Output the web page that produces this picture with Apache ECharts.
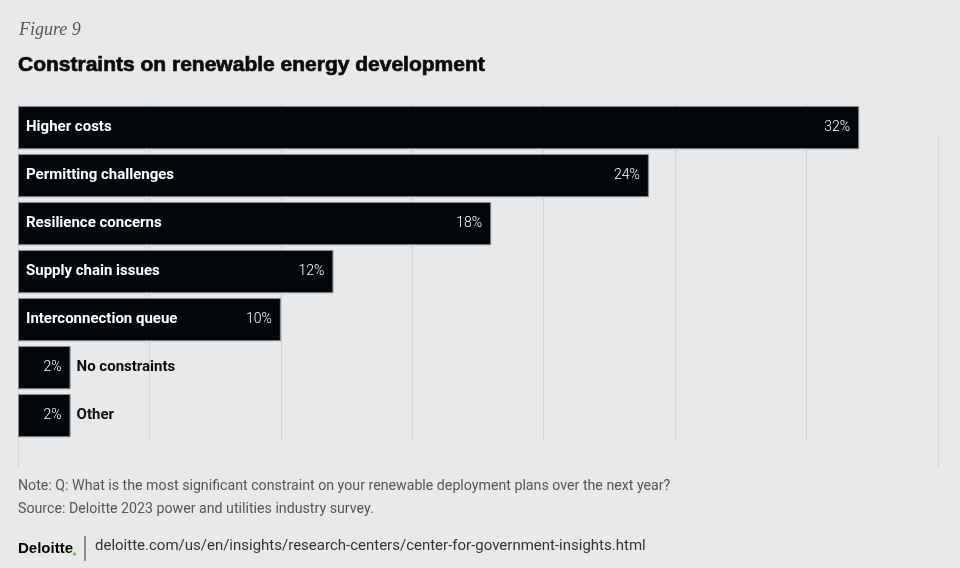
<!DOCTYPE html>
<html>
<head>
<meta charset="utf-8">
<script src="https://cdn.jsdelivr.net/npm/echarts@6/dist/echarts.min.js"></script>
<style>
html,body{margin:0;padding:0;background:#e8e9eb;}
#c{width:960px;height:568px;}
</style>
</head>
<body>
<div id="c"></div>
<script>
const categories = ["Higher costs","Permitting challenges","Resilience concerns","Supply chain issues","Interconnection queue","No constraints","Other"];
const values = [32,24,18,12,10,2,2];
const axisTicks = [0,5,10,15,20,25,30,35];

const chart = echarts.init(document.getElementById('c'));
const gridCol = '#d3d4d6';

const catData = values.map((v,i)=>{
  const small = v < 5;
  return {
    value: v,
    label: small ? {position:'right', color:'#0a0a0a', distance:6} : {position:'insideLeft', color:'#ffffff', distance:8}
  };
});

chart.setOption({
  backgroundColor:'#e8e9eb',
  animation:false,
  title:[
    {text:'Figure 9', left:19, top:21, padding:0, textStyle:{fontFamily:'"Liberation Serif", serif', fontStyle:'italic', fontWeight:'normal', fontSize:18, color:'#555'}},
    {text:'Constraints on renewable energy development', left:18, top:55, padding:0, textStyle:{fontFamily:'"Liberation Sans", sans-serif', fontWeight:'bold', fontSize:21, color:'#0a0a0a', textBorderColor:'#0a0a0a', textBorderWidth:0.7}}
  ],
  grid:[
    {left:18, right:22, top:103.6, height:336},
    {left:18, right:22, top:138, bottom:100}
  ],
  xAxis:[
    {gridIndex:0, type:'value', min:axisTicks[0], max:axisTicks[axisTicks.length-1], interval:5,
     axisLabel:{show:false}, axisLine:{show:false}, axisTick:{show:false},
     splitLine:{show:true, lineStyle:{color:axisTicks.map((t,i)=> i===axisTicks.length-1 ? 'rgba(0,0,0,0)' : gridCol), width:1}}},
    {gridIndex:1, type:'value', min:axisTicks[0], max:axisTicks[axisTicks.length-1], interval:35,
     axisLabel:{show:false}, axisLine:{show:false}, axisTick:{show:false},
     splitLine:{show:true, lineStyle:{color:gridCol, width:1}}}
  ],
  yAxis:[
    {gridIndex:0, type:'category', data:categories, inverse:true, show:false},
    {gridIndex:1, type:'category', data:categories, inverse:true, show:false}
  ],
  series:[
    {type:'bar', xAxisIndex:0, yAxisIndex:0, data:values, barCategoryGap:'10%',
     itemStyle:{color:'#040709', borderColor:'#86888b', borderWidth:1},
     label:{show:true, position:'insideRight', distance:9, color:'#ffffff', fontFamily:'Roboto, sans-serif', fontWeight:300, fontSize:14, formatter:p=>p.value+'%'},
     z:2},
    {type:'bar', xAxisIndex:0, yAxisIndex:0, data:catData, barGap:'-100%', barCategoryGap:'10%',
     itemStyle:{color:'rgba(0,0,0,0)'},
     label:{show:true, fontFamily:'Roboto, sans-serif', fontWeight:'bold', fontSize:15, formatter:p=>categories[p.dataIndex]},
     z:3, silent:true},
    {type:'bar', xAxisIndex:1, yAxisIndex:1, data:[], z:0}
  ],
  graphic:[
    {type:'text', left:18, top:479, style:{text:'Note: Q: What is the most significant constraint on your renewable deployment plans over the next year?', font:'14.2px Roboto, sans-serif', fill:'#555'}},
    {type:'text', left:18, top:502, style:{text:'Source: Deloitte 2023 power and utilities industry survey.', font:'14.2px Roboto, sans-serif', fill:'#555'}},
    {type:'text', left:18, top:541, style:{text:'Deloitte', font:'bold 15px "Liberation Sans", sans-serif', fill:'#000'}},
    {type:'circle', shape:{cx:74.5, cy:554, r:1.7}, style:{fill:'#86bc25'}},
    {type:'line', shape:{x1:85, y1:536, x2:85, y2:561}, style:{stroke:'#333', lineWidth:1}},
    {type:'text', left:95, top:539, style:{text:'deloitte.com/us/en/insights/research-centers/center-for-government-insights.html', font:'15px Roboto, sans-serif', fill:'#333'}}
  ]
});
</script>
</body>
</html>
